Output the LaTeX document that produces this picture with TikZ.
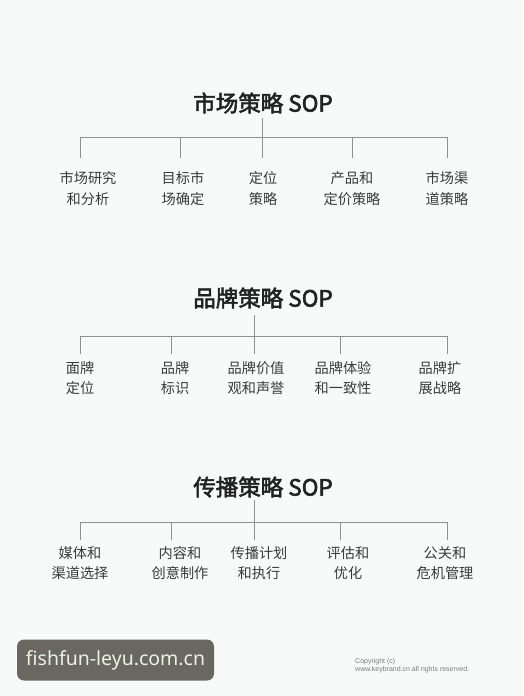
\documentclass[tikz,border=0pt]{standalone}
\usepackage{fontspec}
\newfontfamily\cjk{Noto Sans CJK SC}
\newfontfamily\cjktitle[FakeBold=2.5]{Noto Sans CJK SC}
\newfontfamily\wmfont{Noto Sans}
\newfontfamily\cpfont{Liberation Sans}
\definecolor{bg}{HTML}{F8FAFA}
\definecolor{ink}{HTML}{222222}
\definecolor{leafink}{HTML}{3A3A3A}
\definecolor{linec}{HTML}{909090}
\definecolor{wmbox}{HTML}{6A6760}
\definecolor{wmtext}{HTML}{E8F3E2}
\definecolor{cptext}{HTML}{7A7A7A}
\tikzset{
  title/.style={font=\cjktitle\fontsize{22.5}{26}\selectfont, text=ink, inner sep=0pt},
  leaf/.style={font=\cjk\fontsize{14.2}{20.5}\selectfont, text=leafink, align=center, anchor=north, inner xsep=0pt},
  conn/.style={draw=linec, line width=0.9pt},
}
\begin{document}
\begin{tikzpicture}[x=1pt,y=-1pt]
\fill[bg] (0,0) rectangle (523,696);
\useasboundingbox (0,0) rectangle (523,696);

% ---------- tree 1 ----------
\node[title] (t1) at (263,103) {市场策略 SOP};
\coordinate (s1) at (262,118);
\coordinate (b11) at (80,137);
\coordinate (b12) at (180,137);
\coordinate (b13) at (262,137);
\coordinate (b14) at (352,137);
\coordinate (b15) at (447,137);
\node[leaf, inner ysep=13.5pt] (c11) at (88,158) {市场研究\\和分析};
\node[leaf, inner ysep=13.5pt] (c12) at (183,158) {目标市\\场确定};
\node[leaf, inner ysep=13.5pt] (c13) at (263,158) {定位\\策略};
\node[leaf, inner ysep=13.5pt] (c14) at (352,158) {产品和\\定价策略};
\node[leaf, inner ysep=13.5pt] (c15) at (447,158) {市场渠\\道策略};
\draw[conn] (s1) -- (b13);
\draw[conn] (b11) -- (b15);
\foreach \i in {1,...,5} \draw[conn] (b1\i) -- (b1\i |- c1\i.north);

% ---------- tree 2 ----------
\node[title] (t2) at (263,298) {品牌策略 SOP};
\coordinate (s2) at (254,315);
\coordinate (b21) at (80,336);
\coordinate (b22) at (171,336);
\coordinate (b23) at (254,336);
\coordinate (b24) at (340,336);
\coordinate (b25) at (447,336);
\node[leaf, inner ysep=7pt] (c21) at (80,354) {面牌\\定位};
\node[leaf, inner ysep=7pt] (c22) at (175,354) {品牌\\标识};
\node[leaf, inner ysep=7pt] (c23) at (256,354) {品牌价值\\观和声誉};
\node[leaf, inner ysep=7pt] (c24) at (343,354) {品牌体验\\和一致性};
\node[leaf, inner ysep=7pt] (c25) at (440,354) {品牌扩\\展战略};
\draw[conn] (s2) -- (b23);
\draw[conn] (b21) -- (b25);
\foreach \i in {1,...,5} \draw[conn] (b2\i) -- (b2\i |- c2\i.north);

% ---------- tree 3 ----------
\node[title] (t3) at (263,487) {传播策略 SOP};
\coordinate (s3) at (254,500);
\coordinate (b31) at (80,522);
\coordinate (b32) at (171,522);
\coordinate (b33) at (254,522);
\coordinate (b34) at (340,522);
\coordinate (b35) at (447,522);
\node[leaf, inner ysep=6pt] (c31) at (80,540) {媒体和\\渠道选择};
\node[leaf, inner ysep=6pt] (c32) at (180,540) {内容和\\创意制作};
\node[leaf, inner ysep=6pt] (c33) at (259,540) {传播计划\\和执行};
\node[leaf, inner ysep=6pt] (c34) at (348,540) {评估和\\优化};
\node[leaf, inner ysep=6pt] (c35) at (445,540) {公关和\\危机管理};
\draw[conn] (s3) -- (b33);
\draw[conn] (b31) -- (b35);
\foreach \i in {1,...,5} \draw[conn] (b3\i) -- (b3\i |- c3\i.north);

% ---------- footer ----------
\node[fill=wmbox, rounded corners=7pt, minimum width=197pt, minimum height=41pt,
      text=wmtext, font=\wmfont\fontsize{19.5}{24}\selectfont, inner sep=0pt]
      (wm) at (115.5,660) {fishfun-leyu.com.cn};
\node[anchor=west, align=left, text=cptext, font=\cpfont\fontsize{7}{8.3}\selectfont, inner sep=0pt]
      (cp) at (355,666) {Copyright (c)\\www.keybrand.cn all rights reserved.};
\end{tikzpicture}
\end{document}
